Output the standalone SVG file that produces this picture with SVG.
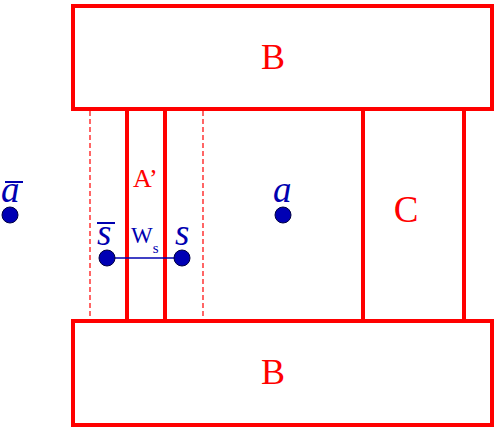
<svg xmlns="http://www.w3.org/2000/svg" width="498" height="430" viewBox="0 0 498 430">
<style>
.box{fill:none;stroke:#ff0000;stroke-width:4}
.wall{stroke:#ff0000;stroke-width:4}
.dash{stroke:#ff0000;stroke-width:1.2;stroke-dasharray:5 3}
.lbl{font-family:"Liberation Serif",serif;fill:#ff0000}
.var{font-family:"Liberation Serif",serif;font-style:italic;fill:#0000b0}
.dot{fill:#0000b4;stroke:#000040;stroke-width:1}
.bar{stroke:#0000b0;stroke-width:2}
</style>
<rect width="498" height="430" fill="#ffffff"/>
<g id="B-top"><rect class="box" x="73" y="6" width="419" height="103"/><text class="lbl" x="273" y="69" font-size="36" text-anchor="middle">B</text></g>
<g id="B-bottom"><rect class="box" x="73" y="321" width="419" height="104"/><text class="lbl" x="273" y="384" font-size="36" text-anchor="middle">B</text></g>
<g id="walls">
<line class="wall" x1="127" y1="109" x2="127" y2="321"/>
<line class="wall" x1="165" y1="109" x2="165" y2="321"/>
<line class="wall" x1="363" y1="109" x2="363" y2="321"/>
<line class="wall" x1="464" y1="109" x2="464" y2="321"/>
<line class="dash" x1="90" y1="111" x2="90" y2="319"/>
<line class="dash" x1="203" y1="111" x2="203" y2="319"/>
</g>
<g id="A-prime"><text class="lbl" x="133" y="187" font-size="26">A’</text></g>
<g id="C"><text class="lbl" x="406" y="222" font-size="37" text-anchor="middle">C</text></g>
<g id="a-bar"><line class="bar" x1="5" y1="182" x2="23" y2="182"/><text class="var" x="1" y="202" font-size="37">a</text><circle class="dot" cx="10" cy="215" r="8"/></g>
<g id="a"><text class="var" x="273" y="202" font-size="37">a</text><circle class="dot" cx="283" cy="215" r="8"/></g>
<g id="connectors"><line x1="107" y1="258" x2="182" y2="258" stroke="#0000b0" stroke-width="1.5"/></g>
<g id="s-bar"><line class="bar" x1="97" y1="223" x2="115" y2="223"/><text class="var" x="97" y="245" font-size="37">s</text><circle class="dot" cx="107" cy="258" r="8"/></g>
<g id="s"><text class="var" x="175" y="245" font-size="37">s</text><circle class="dot" cx="182" cy="258" r="8"/></g>
<g id="Ws"><text font-family="Liberation Serif,serif" fill="#0000b0" x="131" y="243" font-size="23">W<tspan font-size="15" dy="10">s</tspan></text></g>
</svg>
